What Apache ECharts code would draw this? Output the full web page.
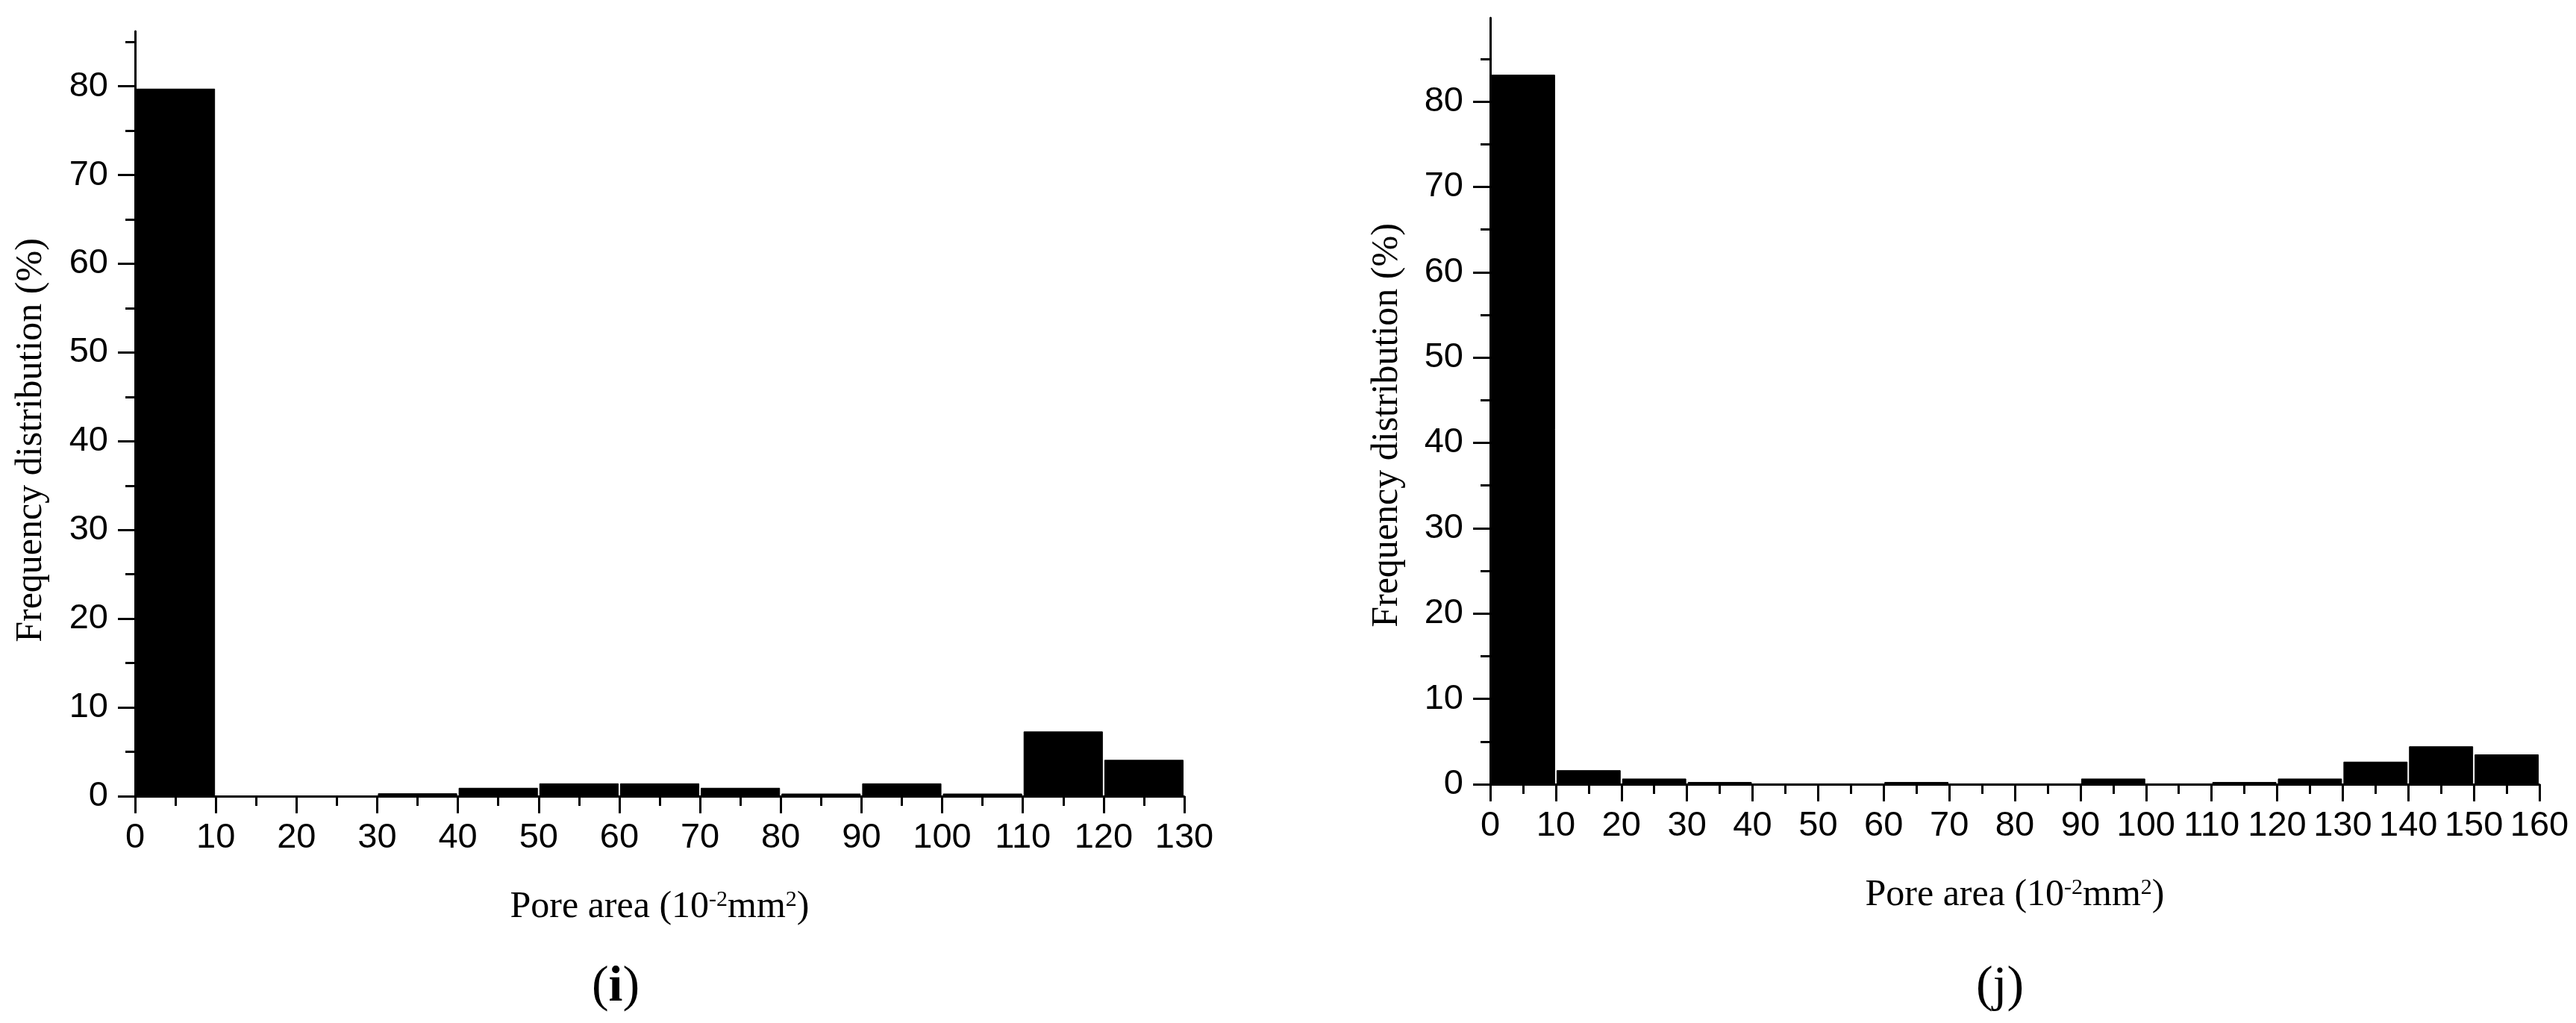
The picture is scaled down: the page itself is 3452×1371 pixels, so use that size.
<!DOCTYPE html>
<html>
<head>
<meta charset="utf-8">
<title>Pore area histograms</title>
<script src="https://cdn.jsdelivr.net/npm/echarts@6/dist/echarts.min.js"></script>
<style>
  html, body { margin: 0; padding: 0; background: #fff; }
  #chart { width: 3452px; height: 1371px; }
</style>
</head>
<body>
<div id="chart"></div>
<script>
// bin start of each 10-wide bin (10^-2 mm^2)
const binWidth = 10
const binStartsI = [0, 10, 20, 30, 40, 50, 60, 70, 80, 90, 100, 110, 120]
const freqI = [79.7, 0, 0, 0.28, 0.9, 1.4, 1.4, 0.9, 0.25, 1.4, 0.25, 7.25, 4.05]
const binStartsJ = [0, 10, 20, 30, 40, 50, 60, 70, 80, 90, 100, 110, 120, 130, 140, 150]
const freqJ = [83.1, 1.6, 0.62, 0.22, 0.05, 0.05, 0.22, 0.05, 0.05, 0.62, 0.05, 0.22, 0.62, 2.6, 4.4, 3.45]

const yMajor = [0, 10, 20, 30, 40, 50, 60, 70, 80]
const yMinor = [5, 15, 25, 35, 45, 55, 65, 75, 85]

const black = '#000'
const sans = '"Liberation Sans", Arial, sans-serif'
const serif = '"Liberation Serif", "Times New Roman", serif'

function toBins(starts, values) {
  return starts.map((s, i) => [s, s + binWidth, values[i]])
}

function renderBar(params, api) {
  const top = api.coord([api.value(0), api.value(2)])
  const bottom = api.coord([api.value(1), 0])
  return {
    type: 'rect',
    shape: {
      x: top[0] + 1.5,
      y: top[1],
      width: bottom[0] - top[0] - 3,
      height: bottom[1] - top[1]
    },
    style: { fill: black, stroke: black, lineWidth: 1 }
  }
}

function xAxisFor(gridIndex, max) {
  return {
    gridIndex: gridIndex,
    type: 'value',
    min: 0,
    max: max,
    interval: 10,
    axisLine: { lineStyle: { color: black, width: 3 } },
    axisTick: { length: 23, lineStyle: { color: black, width: 3 } },
    minorTick: { show: true, splitNumber: 2, length: 13, lineStyle: { color: black, width: 3 } },
    splitLine: { show: false },
    minorSplitLine: { show: false },
    axisLabel: { color: black, fontSize: 47, fontFamily: sans, margin: 33 },
    name: 'Pore area (10{sup|-2}mm{sup|2})',
    nameLocation: 'middle',
    nameGap: 124,
    nameTextStyle: {
      color: black,
      fontSize: 50,
      fontFamily: serif,
      rich: {
        sup: { fontSize: 30, fontFamily: serif, color: black, verticalAlign: 'top', lineHeight: 50 }
      }
    }
  }
}

function yAxesFor(gridIndex, max) {
  return [{
    gridIndex: gridIndex,
    type: 'value',
    min: 0,
    max: max,
    interval: 10,
    axisLine: { show: true, lineStyle: { color: black, width: 3 } },
    axisTick: { show: true, length: 23, customValues: yMajor, lineStyle: { color: black, width: 3 } },
    splitLine: { show: false },
    axisLabel: { color: black, fontSize: 47, fontFamily: sans, margin: 36, customValues: yMajor }
  }, {
    // minor ticks only
    gridIndex: gridIndex,
    type: 'value',
    position: 'left',
    min: 0,
    max: max,
    axisLine: { show: false },
    axisTick: { show: true, length: 13, customValues: yMinor, lineStyle: { color: black, width: 3 } },
    splitLine: { show: false },
    axisLabel: { show: false }
  }]
}

const chart = echarts.init(document.getElementById('chart'))

const option = {
  backgroundColor: '#fff',
  animation: false,
  grid: [
    { left: 181, top: 42, width: 1406, height: 1025 },
    { left: 1997, top: 24, width: 1406, height: 1027 }
  ],
  xAxis: [xAxisFor(0, 130), xAxisFor(1, 160)],
  yAxis: yAxesFor(0, 86.2).concat(yAxesFor(1, 89.8)),
  series: [{
    type: 'custom',
    xAxisIndex: 0,
    yAxisIndex: 0,
    renderItem: renderBar,
    encode: { x: [0, 1], y: 2 },
    data: toBins(binStartsI, freqI)
  }, {
    type: 'custom',
    xAxisIndex: 1,
    yAxisIndex: 2,
    renderItem: renderBar,
    encode: { x: [0, 1], y: 2 },
    data: toBins(binStartsJ, freqJ)
  }],
  graphic: [{
    type: 'text',
    x: 42,
    y: 590,
    rotation: Math.PI / 2,
    style: { text: 'Frequency distribution (%)', fontSize: 50, fontFamily: serif, fill: black, align: 'center', verticalAlign: 'middle' }
  }, {
    type: 'text',
    x: 1859,
    y: 570,
    rotation: Math.PI / 2,
    style: { text: 'Frequency distribution (%)', fontSize: 50, fontFamily: serif, fill: black, align: 'center', verticalAlign: 'middle' }
  }, {
    type: 'text',
    x: 825,
    y: 1323,
    style: {
      text: '{p|(}{b|i}{p|)}',
      align: 'center',
      verticalAlign: 'middle',
      rich: {
        p: { fontSize: 68, fontFamily: serif, fill: black },
        b: { fontSize: 68, fontFamily: serif, fontWeight: 'bold', fill: black }
      }
    }
  }, {
    type: 'text',
    x: 2680,
    y: 1323,
    style: { text: '(j)', fontSize: 68, fontFamily: serif, fill: black, align: 'center', verticalAlign: 'middle' }
  }]
}

chart.setOption(option)
</script>
</body>
</html>
